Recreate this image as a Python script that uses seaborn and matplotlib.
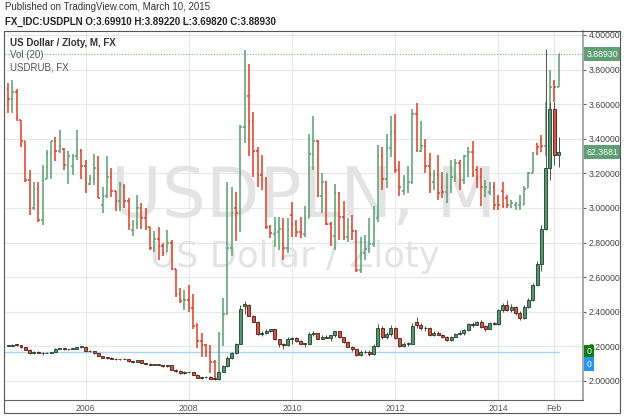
import numpy as np
import pandas as pd
import matplotlib
matplotlib.use("Agg")
import matplotlib.pyplot as plt
from matplotlib.patches import Rectangle
import seaborn as sns

# ─────────────────────────────────────────────
# USD/PLN monthly OHLC bars with USD/RUB candles overlaid (TradingView style)
# ─────────────────────────────────────────────

sns.set_style("white")
plt.rcParams["font.family"] = ["Liberation Sans", "DejaVu Sans"]

UP_BAR = "#55a06f"
DOWN_BAR = "#e53b1f"
UP_BODY = "#4f9a69"
DOWN_BODY = "#e2503a"
UP_EDGE = "#1d3d2a"
DOWN_EDGE = "#4d1a12"

months = pd.date_range("2004-07-01", "2015-03-01", freq="MS")
xpos = np.asarray(months.year + (months.month - 1) / 12.0, dtype=float)

# USD/PLN, Jul 2004 .. Mar 2015
pln_open = [3.69, 3.63, 3.67, 3.51, 3.39, 3.16, 3.00, 3.11, 2.93, 3.17, 3.32, 3.39,
            3.33, 3.34, 3.25, 3.24, 3.30, 3.33, 3.24, 3.14, 3.17, 3.23, 3.02, 3.07,
            3.18, 3.10, 3.04, 3.12, 3.04, 2.87, 2.91, 3.00, 2.94, 2.89, 2.77, 2.82,
            2.78, 2.74, 2.80, 2.65, 2.50, 2.44, 2.47, 2.42, 2.32, 2.23, 2.21, 2.17,
            2.11, 2.03, 2.27, 2.39, 2.77, 3.00, 2.97, 3.47, 3.65, 3.50, 3.33, 3.19,
            3.17, 2.89, 2.85, 2.86, 2.88, 2.77, 2.96, 2.91, 2.86, 2.85, 2.94, 3.31,
            3.39, 3.07, 3.15, 2.91, 2.84, 3.085, 2.95, 2.835, 2.89, 2.865, 2.64, 2.74,
            2.76, 2.79, 2.94, 3.30, 3.165, 3.345, 3.44, 3.22, 3.10, 3.12, 3.15, 3.545,
            3.33, 3.36, 3.24, 3.15, 3.19, 3.12, 3.09, 3.12, 3.18, 3.26, 3.16, 3.30,
            3.325, 3.22, 3.18, 3.07, 3.09, 3.12, 3.06, 3.10, 3.06, 3.01, 3.02, 3.02,
            3.02, 3.115, 3.20, 3.37, 3.39, 3.36, 3.54, 3.72, 3.6991]
pln_high = [3.72, 3.74, 3.685, 3.51, 3.39, 3.22, 3.15, 3.15, 3.25, 3.335, 3.39, 3.41,
            3.45, 3.345, 3.33, 3.31, 3.45, 3.34, 3.28, 3.19, 3.31, 3.30, 3.12, 3.30,
            3.23, 3.10, 3.15, 3.14, 3.06, 2.93, 3.075, 3.03, 3.00, 2.89, 2.865, 2.89,
            2.80, 2.875, 2.815, 2.65, 2.535, 2.525, 2.555, 2.505, 2.335, 2.275, 2.215, 2.21,
            2.12, 2.285, 2.48, 3.15, 3.12, 3.095, 3.48, 3.913, 3.83, 3.555, 3.355, 3.305,
            3.18, 2.90, 2.95, 2.95, 2.94, 2.94, 3.035, 2.93, 2.95, 3.01, 3.43, 3.53,
            3.395, 3.20, 3.155, 2.92, 3.14, 3.095, 3.04, 2.94, 2.96, 2.875, 2.835, 2.845,
            2.94, 3.01, 3.365, 3.355, 3.43, 3.53, 3.545, 3.27, 3.19, 3.24, 3.575, 3.605,
            3.505, 3.40, 3.315, 3.22, 3.305, 3.21, 3.20, 3.275, 3.285, 3.275, 3.305, 3.35,
            3.385, 3.245, 3.23, 3.16, 3.15, 3.15, 3.075, 3.15, 3.075, 3.045, 3.035, 3.075,
            3.125, 3.21, 3.325, 3.375, 3.42, 3.615, 3.80, 3.74, 3.8922]
pln_low = [3.55, 3.55, 3.50, 3.35, 3.15, 2.96, 2.99, 2.92, 2.90, 3.17, 3.17, 3.27,
           3.32, 3.22, 3.14, 3.19, 3.28, 3.17, 3.085, 3.13, 3.13, 3.055, 2.97, 3.06,
           3.065, 2.98, 2.98, 3.00, 2.87, 2.84, 2.88, 2.88, 2.875, 2.755, 2.745, 2.70,
           2.72, 2.745, 2.64, 2.485, 2.45, 2.41, 2.40, 2.30, 2.19, 2.14, 2.14, 2.045,
           2.015, 2.02, 2.20, 2.38, 2.72, 2.81, 2.86, 3.375, 3.30, 3.18, 3.12, 3.105,
           2.88, 2.825, 2.775, 2.755, 2.70, 2.74, 2.83, 2.83, 2.825, 2.83, 2.94, 3.22,
           3.065, 2.97, 2.90, 2.78, 2.755, 2.815, 2.815, 2.805, 2.815, 2.63, 2.625, 2.70,
           2.74, 2.775, 2.92, 3.105, 3.115, 3.295, 3.20, 3.07, 3.075, 3.085, 3.14, 3.325,
           3.325, 3.20, 3.085, 3.105, 3.045, 3.055, 3.03, 3.085, 3.15, 3.105, 3.14, 3.18,
           3.18, 3.115, 3.01, 3.065, 3.075, 2.99, 2.99, 3.00, 3.00, 3.00, 2.99, 2.99,
           3.015, 3.115, 3.20, 3.305, 3.325, 3.30, 3.50, 3.615, 3.6982]
pln_close = [3.63, 3.67, 3.52, 3.39, 3.16, 3.00, 3.11, 2.93, 3.16, 3.32, 3.385, 3.33,
             3.36, 3.25, 3.30, 3.30, 3.33, 3.24, 3.14, 3.17, 3.23, 3.06, 3.07, 3.18,
             3.10, 3.04, 3.13, 3.04, 2.90, 2.91, 3.00, 2.94, 2.89, 2.77, 2.82, 2.78,
             2.74, 2.80, 2.65, 2.50, 2.46, 2.47, 2.42, 2.32, 2.23, 2.21, 2.17, 2.11,
             2.025, 2.27, 2.39, 2.77, 2.97, 2.97, 3.47, 3.65, 3.50, 3.33, 3.19, 3.17,
             2.89, 2.855, 2.87, 2.88, 2.77, 2.87, 2.91, 2.86, 2.85, 2.94, 3.31, 3.39,
             3.07, 3.15, 2.91, 2.84, 3.085, 2.95, 2.835, 2.89, 2.865, 2.64, 2.74, 2.76,
             2.79, 2.88, 3.30, 3.165, 3.345, 3.44, 3.22, 3.12, 3.16, 3.15, 3.545, 3.335,
             3.36, 3.24, 3.19, 3.19, 3.085, 3.09, 3.12, 3.18, 3.26, 3.16, 3.30, 3.325,
             3.19, 3.18, 3.12, 3.12, 3.12, 3.02, 3.02, 3.01, 3.02, 3.03, 3.03, 3.03,
             3.11, 3.20, 3.315, 3.35, 3.36, 3.54, 3.70, 3.70, 3.8893]

# USD/RUB, Jul 2004 .. Mar 2015
rub_open = [29.05, 29.12, 29.22, 29.2, 28.8, 28.4, 27.75, 28.05, 27.8, 27.85, 27.8, 28.0,
            28.6, 28.65, 28.45, 28.5, 28.55, 28.9, 28.95, 28.2, 28.1, 27.75, 27.35, 27.0,
            27.05, 26.85, 26.75, 26.85, 26.8, 26.4, 26.3, 26.55, 26.15, 26.0, 25.8, 25.9,
            25.8, 25.55, 25.7, 25.0, 24.8, 24.35, 24.55, 24.5, 24.1, 23.55, 23.65, 23.7,
            23.5, 23.3, 24.6, 25.6, 27.0, 27.8, 29.4, 35.9, 36.0, 34.2, 33.2, 31.1,
            31.3, 31.65, 31.95, 30.2, 29.4, 29.2, 30.3, 30.45, 29.95, 29.45, 29.4, 31.1,
            31.25, 30.3, 30.65, 30.45, 30.85, 31.55, 30.5, 29.8, 28.95, 28.45, 27.45, 28.05,
            27.95, 27.7, 29.0, 32.1, 30.5, 31.1, 32.2, 30.35, 29.0, 29.35, 29.45, 33.2,
            32.6, 32.2, 32.05, 31.0, 31.35, 31.0, 30.6, 30.1, 30.6, 31.1, 31.2, 31.85,
            32.8, 32.7, 33.2, 32.4, 32.0, 32.95, 32.8, 35.2, 36.0, 35.2, 35.7, 34.7,
            33.8, 35.7, 36.9, 39.5, 43.1, 49.2, 59.6, 69.7, 61.9]
rub_high = [29.25, 29.3, 29.3, 29.25, 28.85, 28.45, 28.2, 28.2, 27.95, 27.95, 28.05, 28.7,
            28.75, 28.7, 28.6, 28.65, 28.9, 29.1, 28.98, 28.3, 28.2, 27.85, 27.4, 27.1,
            27.1, 26.9, 26.85, 26.95, 26.85, 26.45, 26.6, 26.6, 26.2, 26.05, 26.0, 25.95,
            25.85, 25.85, 25.75, 25.1, 24.85, 24.7, 24.65, 24.65, 24.15, 23.75, 23.8, 23.8,
            23.6, 24.7, 25.8, 27.4, 28.0, 29.5, 36.0, 36.8, 36.3, 34.4, 33.4, 31.6,
            31.9, 32.0, 32.0, 30.3, 29.6, 30.5, 30.6, 30.5, 30.0, 29.5, 31.5, 31.6,
            31.3, 30.9, 31.0, 31.0, 31.7, 31.6, 30.6, 29.9, 29.0, 28.5, 28.3, 28.3,
            28.3, 29.4, 32.8, 32.5, 31.4, 32.7, 32.3, 30.45, 29.8, 29.8, 33.0, 34.0,
            33.0, 32.5, 32.3, 31.7, 31.7, 31.1, 30.7, 30.8, 31.3, 31.8, 32.0, 33.0,
            33.1, 33.4, 33.5, 32.6, 33.2, 33.2, 35.4, 36.5, 37.0, 36.3, 35.9, 35.0,
            36.0, 37.2, 39.8, 43.6, 49.9, 80.0, 70.9, 71.0, 65.0]
rub_low = [29.0, 29.05, 29.1, 28.75, 28.35, 27.7, 27.7, 27.75, 27.5, 27.75, 27.75, 27.95,
           28.55, 28.4, 28.3, 28.45, 28.5, 28.75, 28.1, 28.0, 27.7, 27.3, 26.95, 26.85,
           26.8, 26.7, 26.65, 26.75, 26.35, 26.2, 26.3, 26.1, 25.95, 25.75, 25.75, 25.75,
           25.45, 25.5, 24.95, 24.6, 24.25, 24.3, 24.4, 24.05, 23.5, 23.35, 23.6, 23.4,
           23.15, 23.25, 24.5, 25.5, 26.8, 27.6, 29.3, 34.6, 34.2, 33.1, 30.9, 30.7,
           31.1, 31.4, 30.1, 28.9, 28.6, 29.1, 29.4, 29.8, 29.3, 28.9, 29.35, 30.7,
           30.2, 30.2, 30.35, 29.9, 30.6, 30.4, 29.6, 28.8, 28.2, 27.25, 27.3, 27.85,
           27.3, 27.5, 28.9, 30.3, 30.2, 30.8, 30.2, 28.9, 28.9, 29.1, 29.4, 32.2,
           31.8, 31.6, 30.8, 30.7, 30.9, 30.4, 29.9, 29.9, 30.5, 31.0, 30.9, 31.7,
           32.3, 32.6, 32.1, 31.7, 31.9, 32.6, 32.7, 34.9, 35.1, 34.9, 34.3, 33.5,
           33.7, 35.5, 36.8, 39.3, 41.9, 49.0, 57.6, 60.1, 59.8]
rub_close = [29.12, 29.22, 29.2, 28.8, 28.4, 27.75, 28.05, 27.8, 27.85, 27.8, 28.0, 28.6,
             28.65, 28.45, 28.5, 28.55, 28.9, 28.95, 28.2, 28.1, 27.75, 27.35, 27.0, 26.95,
             26.85, 26.75, 26.8, 26.75, 26.4, 26.3, 26.55, 26.15, 26.0, 25.8, 25.9, 25.8,
             25.55, 25.7, 25.0, 24.8, 24.35, 24.55, 24.5, 24.1, 23.55, 23.65, 23.7, 23.45,
             23.3, 24.6, 25.6, 27.0, 27.8, 29.4, 35.4, 36.2, 34.2, 33.2, 31.1, 31.3,
             31.65, 31.95, 30.2, 29.4, 29.2, 30.3, 30.45, 29.95, 29.45, 29.4, 31.1, 31.25,
             30.3, 30.65, 30.45, 30.85, 31.55, 30.5, 29.8, 28.95, 28.45, 27.45, 27.95, 27.95,
             27.7, 29.0, 32.1, 30.5, 31.1, 32.2, 30.35, 29.0, 29.35, 29.45, 32.5, 32.6,
             32.2, 32.05, 31.0, 31.35, 31.0, 30.6, 30.1, 30.6, 31.1, 31.2, 31.85, 32.8,
             32.7, 33.2, 32.3, 32.0, 32.95, 32.8, 35.2, 36.0, 35.2, 35.7, 34.7, 33.8,
             35.7, 36.9, 39.5, 43.1, 49.2, 59.6, 69.8, 61.9, 62.3681]

vol_level = 2.168          # Vol(20) zero line, in USDPLN axis units
vol_ma_level = 2.098
year_ticks = [2006, 2008, 2010, 2012, 2014, 2015 + 1 / 12]
year_labels = ["2006", "2008", "2010", "2012", "2014", "Feb"]
price_ticks = [2.0, 2.2, 2.4, 2.6, 2.8, 3.0, 3.2, 3.4, 3.6, 3.8, 4.0]

fig = plt.figure(figsize=(6.25, 4.19), dpi=100)
fig.patch.set_facecolor("white")
ax = fig.add_axes([5 / 625, 1 - 400 / 419, 578 / 625, 369 / 419])
ax.set_xlim(2004.44, 2015.64)
ax.set_ylim(1.89, 4.023)

# USDRUB gets its own (hidden) scale
ax2 = ax.twinx()
ax2.set_ylim(19.76, 83.16)
ax2.axis("off")

# grid and axes
ax.set_xticks(year_ticks)
ax.set_xticklabels(year_labels)
ax.set_yticks(price_ticks)
ax.set_yticklabels([f"{v:.5f}" for v in price_ticks])
ax.yaxis.tick_right()
ax.grid(True, color="#e8e8e8", linewidth=0.8)
ax.set_axisbelow(True)
ax.tick_params(axis="y", which="both", left=False, labelleft=False, right=True,
               labelright=True, length=2.5, width=0.8, color="#666", labelsize=6.3,
               labelcolor="#444", pad=1.5)
ax.tick_params(axis="x", length=0, labelsize=6.3, labelcolor="#555", pad=3)
for s in ["top", "left"]:
    ax.spines[s].set_visible(False)
ax.spines["right"].set_color("#9a9a9a")
ax.spines["right"].set_linewidth(1.2)
ax.spines["bottom"].set_color("#666")
ax.spines["bottom"].set_linewidth(0.8)

# watermark
ax.text(111 / 625, 1 - 217 / 419, "USDPLN, M", transform=fig.transFigure,
        fontsize=50, color="#e3e3e3", ha="left", va="baseline",
        family="DejaVu Sans", zorder=1)
ax.text(150 / 625, 1 - 267 / 419, "US Dollar / Zloty", transform=fig.transFigure,
        fontsize=25.5, color="#e3e3e3", ha="left", va="baseline",
        family="DejaVu Sans", zorder=1)

# last price dotted line and vol line
ax.axhline(pln_close[-1], color="#79b38e", linewidth=0.8, linestyle=(0, (1, 1.5)), zorder=2)
sns.lineplot(x=[xpos[0] - 0.1, xpos[-1]], y=[vol_level, vol_level], ax=ax,
             color="#a6d6f7", linewidth=1.0, zorder=2)

# USDPLN OHLC bars
o = np.array(pln_open)
c = np.array(pln_close)
bar_cols = np.where(c >= o, UP_BAR, DOWN_BAR)
tick = 0.03
ax.vlines(xpos, pln_low, pln_high, colors=bar_cols, linewidth=1.1, zorder=3)
ax.hlines(o, xpos - tick, xpos, colors=bar_cols, linewidth=1.1, zorder=3)
ax.hlines(c, xpos, xpos + tick, colors=bar_cols, linewidth=1.1, zorder=3)

# USDRUB candles
ro = np.array(rub_open)
rc = np.array(rub_close)
up = rc >= ro
ax2.vlines(xpos, rub_low, rub_high, colors="#505050", linewidth=0.7, zorder=2)
ax2.bar(xpos, np.maximum(np.abs(rc - ro), 0.12), bottom=np.minimum(ro, rc), width=0.058,
        color=np.where(up, UP_BODY, DOWN_BODY), edgecolor=np.where(up, UP_EDGE, DOWN_EDGE),
        linewidth=0.6, zorder=3)


def price_tag(axis, value, text, fc):
    axis.annotate(text, xy=(1.0, value), xycoords=axis.get_yaxis_transform(),
                  xytext=(2.5, 0), textcoords="offset points", ha="left", va="center",
                  fontsize=6.3, color="white", annotation_clip=False, zorder=10,
                  bbox=dict(boxstyle="square,pad=0.28", fc=fc, ec="none"))


price_tag(ax, pln_close[-1], f"{pln_close[-1]:.5f}", "#5f9f76")
price_tag(ax2, rub_close[-1], f"{rub_close[-1]:.4f}", "#5f9f76")
price_tag(ax, vol_level, "0", "#0a7d0f")
price_tag(ax, vol_ma_level, "0", "#2196f3")

# legend texts inside the pane
ax.text(10 / 625, 1 - 43 / 419, "US Dollar / Zloty, M, FX", transform=fig.transFigure,
        fontsize=7, fontweight="bold", color="#333", va="center", zorder=5)
ax.text(10 / 625, 1 - 55.5 / 419, "Vol (20)", transform=fig.transFigure,
        fontsize=7, color="#555", va="center", zorder=5)
ax.text(10 / 625, 1 - 68 / 419, "USDRUB, FX", transform=fig.transFigure,
        fontsize=7, color="#555", va="center", zorder=5)

# header
fig.text(5 / 625, 1 - 7.5 / 419, "Published on TradingView.com, March 10, 2015",
         fontsize=7, color="#333", va="center")
fig.text(5 / 625, 1 - 21.5 / 419,
         "FX_IDC:USDPLN O:3.69910 H:3.89220 L:3.69820 C:3.88930",
         fontsize=7, fontweight="bold", color="#222", va="center")

# outer frame
fig.patches.append(Rectangle((4 / 625, 1 - 413 / 419), 616 / 625, 382 / 419,
                             transform=fig.transFigure, fill=False,
                             edgecolor="#555", linewidth=0.8))

fig.savefig("out.png", dpi=100)
plt.close(fig)
